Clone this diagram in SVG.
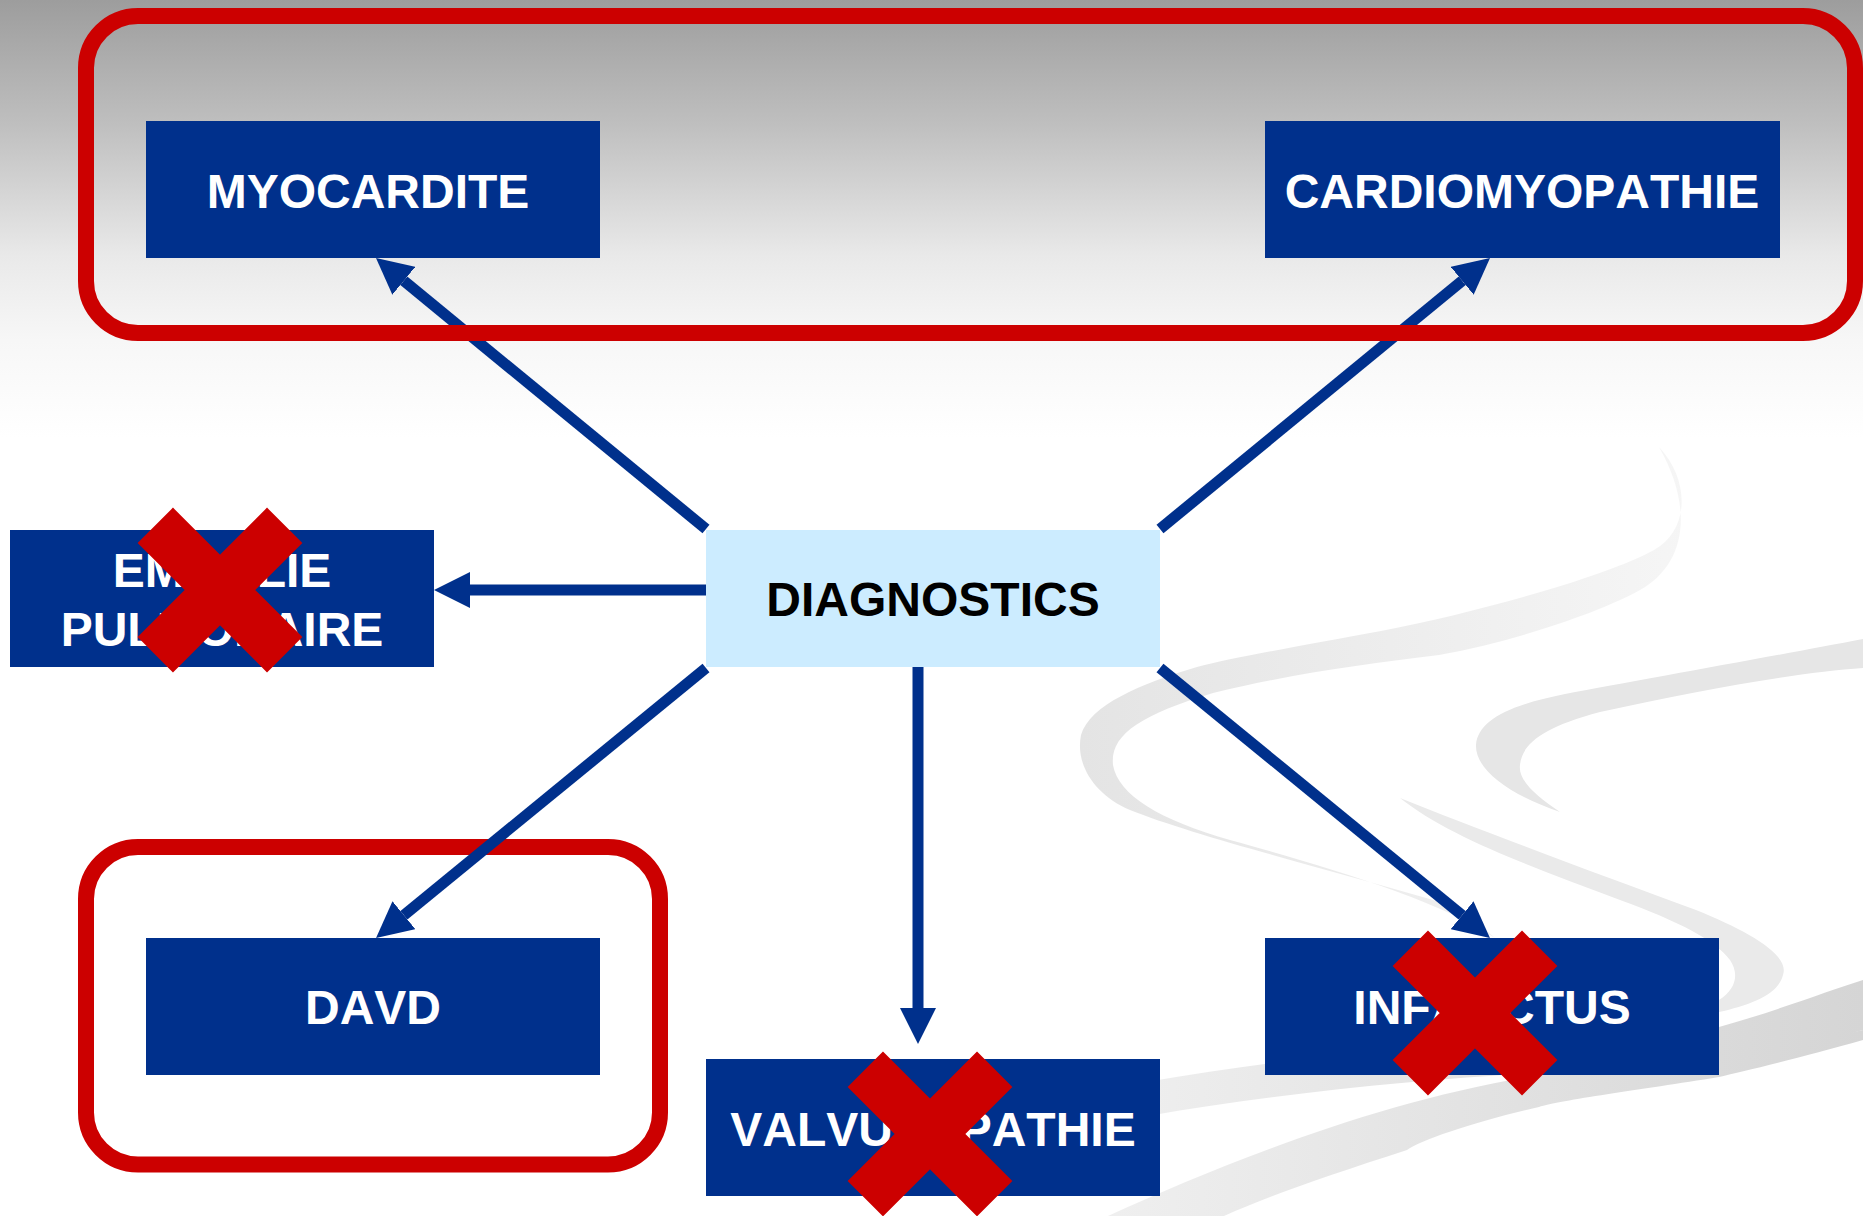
<svg xmlns="http://www.w3.org/2000/svg" width="1863" height="1216" viewBox="0 0 1863 1216">
<style>
.box{fill:#00308C}
.dbox{fill:#CCECFF}
.lbl{font-family:"Liberation Sans",Arial,sans-serif;font-weight:bold;font-size:48px;text-anchor:middle;fill:#FFFFFF;font-kerning:none}
.dlbl{fill:#000000}
.frame{fill:none;stroke:#CC0000;stroke-width:16}
.conn{fill:none;stroke:#00308C;stroke-width:11;marker-end:url(#ah)}
</style>
<defs>
<linearGradient id="bg" x1="0" y1="0" x2="0" y2="1216" gradientUnits="userSpaceOnUse">
<stop offset="0" stop-color="#9D9D9D"/>
<stop offset="0.1" stop-color="#BEBEBE"/>
<stop offset="0.21" stop-color="#E9E9E9"/>
<stop offset="0.28" stop-color="#F7F7F7"/>
<stop offset="0.36" stop-color="#FFFFFF"/>
</linearGradient>
<linearGradient id="ribA" x1="1080" y1="0" x2="1700" y2="0" gradientUnits="userSpaceOnUse">
<stop offset="0" stop-color="#E4E4E4"/>
<stop offset="1" stop-color="#F6F6F6"/>
</linearGradient>
<linearGradient id="ribD" x1="1000" y1="0" x2="1863" y2="0" gradientUnits="userSpaceOnUse">
<stop offset="0" stop-color="#F3F3F3"/>
<stop offset="1" stop-color="#D5D5D5"/>
</linearGradient>
<marker id="ah" markerUnits="userSpaceOnUse" markerWidth="36" markerHeight="36" refX="0" refY="18" orient="auto" viewBox="0 0 36 36">
<path d="M0,0 L36,18 L0,36 Z" fill="#00308C"/>
</marker>
<path id="xm" d="M-64.7,-64.7 L64.7,64.7 M64.7,-64.7 L-64.7,64.7" fill="none" stroke="#CC0000" stroke-width="50"/>
</defs>

<rect x="0" y="0" width="1863" height="1216" fill="url(#bg)"/>

<g id="decoration">
<path fill="url(#ribA)" d="M1659,447 C1690,480 1690,530 1654,550 C1610,575 1480,612 1381,631 C1300,646 1230,658 1197,667 C1140,684 1090,705 1081,735 C1075,765 1095,795 1130,810 C1200,838 1350,875 1460,908 L1495,938 C1440,900 1320,865 1230,840 C1160,820 1118,795 1113,765 C1110,735 1140,715 1213,693 C1300,672 1360,665 1439,655 C1520,640 1600,612 1640,590 C1685,565 1695,510 1659,447 Z"/>
<path fill="#E6E6E6" d="M1863,639 C1780,655 1640,680 1565,694 C1510,705 1478,720 1476,745 C1475,770 1510,795 1560,812 C1535,795 1518,780 1520,765 C1522,745 1540,728 1600,712 C1700,690 1800,672 1863,668 Z"/>
<path fill="#EAEAEA" d="M1400,798 C1480,830 1600,875 1696,910 C1750,932 1790,955 1783,975 C1778,995 1750,1005 1719,1012 L1719,1000 C1735,990 1740,975 1730,960 C1715,940 1680,922 1620,900 C1540,870 1450,838 1400,798 Z"/>
<path fill="url(#ribD)" d="M1000,1110 C1300,1045 1600,1030 1719,1027 C1780,1010 1830,990 1863,980 L1863,1030 C1800,1048 1740,1062 1719,1064 C1550,1072 1300,1078 1000,1145 Z"/>
<path fill="url(#ribD)" d="M1108,1216 C1220,1165 1380,1100 1540,1075 C1640,1063 1700,1062 1719,1062 L1863,1030 L1863,1040 C1800,1058 1740,1072 1719,1077 C1640,1090 1560,1100 1539,1107 C1480,1120 1420,1140 1407,1150 C1330,1175 1270,1195 1224,1216 Z"/>
</g>

<g id="frame-davd">
<rect class="frame" x="86" y="847" width="574" height="317.5" rx="52" ry="52"/>
</g>

<g id="connectors">
<path class="conn" d="M706,529 L403.8,280.8"/>
<path class="conn" d="M1160,529 L1462.2,280.8"/>
<path class="conn" d="M706,668 L403.9,915.2"/>
<path class="conn" d="M1160,668 L1462.1,915.2"/>
<path class="conn" d="M706,590 L470,590"/>
<path class="conn" d="M918,667 L918,1008"/>
</g>

<g id="frame-top">
<rect class="frame" x="86" y="16" width="1769" height="317" rx="52" ry="52"/>
</g>

<g id="myocardite">
<rect class="box" x="146" y="121" width="454" height="137"/>
<text class="lbl" x="368" y="208">MYOCARDITE</text>
</g>

<g id="cardiomyopathie">
<rect class="box" x="1265" y="121" width="515" height="137"/>
<text class="lbl" x="1522" y="208">CARDIOMYOPATHIE</text>
</g>

<g id="embolie">
<rect class="box" x="10" y="530" width="424" height="137"/>
<text class="lbl" x="222" y="587">EMBOLIE</text>
<text class="lbl" x="222" y="646">PULMONAIRE</text>
</g>

<g id="diagnostics">
<rect class="dbox" x="706" y="530" width="454" height="137"/>
<text class="lbl dlbl" x="933" y="616">DIAGNOSTICS</text>
</g>

<g id="davd">
<rect class="box" x="146" y="938" width="454" height="137"/>
<text class="lbl" x="373" y="1024">DAVD</text>
</g>

<g id="valvulopathie">
<rect class="box" x="706" y="1059" width="454" height="137"/>
<text class="lbl" x="933" y="1146">VALVULOPATHIE</text>
</g>

<g id="infarctus">
<rect class="box" x="1265" y="938" width="454" height="137"/>
<text class="lbl" x="1492" y="1024">INFARCTUS</text>
</g>

<g id="crosses">
<use href="#xm" x="220" y="590"/>
<use href="#xm" x="1475" y="1013"/>
<use href="#xm" x="930" y="1134"/>
</g>
</svg>
